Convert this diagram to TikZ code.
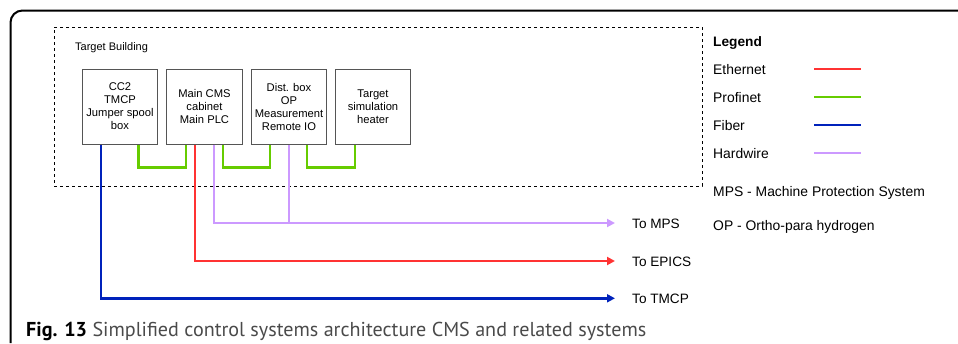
\documentclass[tikz,border=0pt]{standalone}
\usepackage{graphicx}
\usepackage{fontspec}
\setmainfont{Liberation Sans}
\newfontfamily\capfont{PT Sans}
\usetikzlibrary{arrows.meta}
\definecolor{eth}{HTML}{FF3333}
\definecolor{pnet}{HTML}{66CC00}
\definecolor{fib}{HTML}{0022BB}
\definecolor{hwc}{HTML}{CC99FF}
\definecolor{boxgray}{HTML}{555555}
\definecolor{capgray}{HTML}{4A4A4A}
\begin{document}
\begin{tikzpicture}[x=1pt,y=-1pt,
  dev/.style={draw=boxgray,line width=1pt,minimum width=75.5pt,minimum height=75pt,inner sep=0pt,align=center,font=\fontsize{11.2}{13}\selectfont},
  wire/.style={line width=2.7pt},
  ethw/.style={wire,draw=eth},
  pnw/.style={wire,draw=pnet},
  fibw/.style={wire,draw=fib},
  hww/.style={wire,draw=hwc},
  tip/.style={-{Triangle[length=8pt,width=8pt]}},
  lbl/.style={anchor=base west,inner sep=0pt,font=\fontsize{13.6}{16}\selectfont},
  leglbl/.style={anchor=base west,inner sep=0pt,font=\fontsize{13.9}{16}\selectfont},
  smalllbl/.style={anchor=base west,inner sep=0pt,font=\fontsize{11}{13}\selectfont}]
\useasboundingbox (0,0) rectangle (958,343);
% outer frame
\draw[line width=2pt,rounded corners=12pt] (10.5,343) -- (10.5,10.5) -- (958,10.5);
% target building
\node[draw,line width=0.8pt,dash pattern=on 3pt off 3pt,minimum width=648pt,minimum height=159pt,inner sep=0pt] (tb) at (378,106.5) {};
\node[smalllbl] (tbl) at (75,50) {Target Building};
% devices
\node[dev] (b1) at (120,106.5) {CC2\\TMCP\\Jumper spool\\box};
\node[dev] (b2) at (204.5,106.5) {Main CMS\\cabinet\\Main PLC};
\node[dev] (b3) at (289,106.5) {Dist. box\\OP\\Measurement\\Remote IO};
\node[dev] (b4) at (373,106.5) {Target\\simulation\\heater};
% targets
\node[lbl] (tmps) at (632,228) {To MPS};
\node[lbl] (tepics) at (632,266) {To EPICS};
\node[lbl] (ttmcp) at (632,303.3) {To TMCP};
\coordinate (emps) at (615,223);
\coordinate (eepics) at (615,261);
\coordinate (etmcp) at (615,298.3);
\coordinate (jn) at (289,223);
% profinet
\draw[pnw] ([xshift=18.5pt]b1.south) -- ++(0,23) -| ([xshift=-18.5pt]b2.south);
\draw[pnw] ([xshift=18.5pt]b2.south) -- ++(0,23) -| ([xshift=-19pt]b3.south);
\draw[pnw] ([xshift=18pt]b3.south) -- ++(0,23) -| ([xshift=-18pt]b4.south);
% fiber, ethernet, hardwire
\draw[fibw,tip] ([xshift=-19pt]b1.south) |- (etmcp);
\draw[ethw,tip] ([xshift=-9.5pt]b2.south) |- (eepics);
\draw[hww,tip] ([xshift=9.5pt]b2.south) |- (emps);
\draw[hww] (b3.south) -- (jn);
% legend
\node[anchor=base west,inner sep=0pt,font=\fontsize{13.7}{16}\selectfont\bfseries] (leg) at (713,46.7) {Legend};
\node[leglbl] (le) at (713,74.5) {Ethernet};
\node[leglbl] (lp) at (713,102.5) {Profinet};
\node[leglbl] (lf) at (713,130.5) {Fiber};
\node[leglbl] (lh) at (713,158.5) {Hardwire};
\draw[ethw] (814,69) -- (861,69);
\draw[pnw] (814,97) -- (861,97);
\draw[fibw] (814,125) -- (861,125);
\draw[hww] (814,153) -- (861,153);
\node[leglbl] (lmps) at (713,196.7) {MPS - Machine Protection System};
\node[leglbl] (lop) at (713,230) {OP - Ortho-para hydrogen};
% caption
\node[anchor=base west,inner sep=0pt] (cap) at (26,336) {\resizebox{620pt}{!}{\capfont\textbf{Fig. 13} \textcolor{capgray}{Simplified control systems architecture CMS and related systems}}};
\end{tikzpicture}
\end{document}
